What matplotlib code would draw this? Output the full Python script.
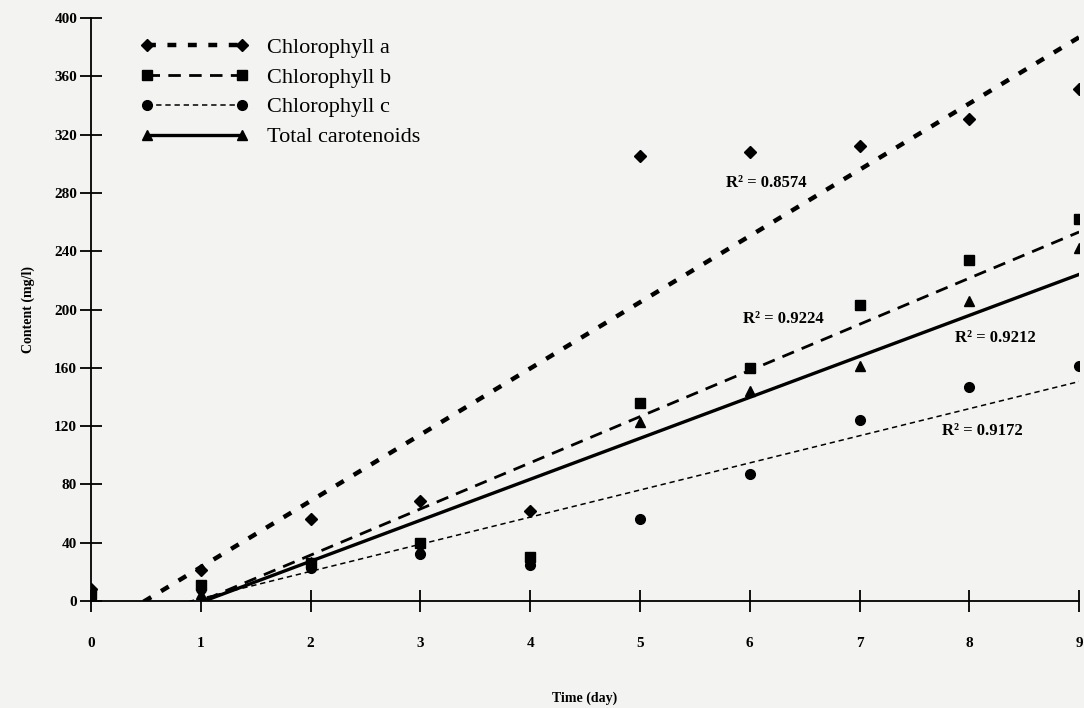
import numpy as np
import matplotlib
matplotlib.use("Agg")
import matplotlib.pyplot as plt
from matplotlib.lines import Line2D

days = [0, 1, 2, 3, 4, 5, 6, 7, 8, 9]
chl_a = [8, 21, 56, 69, 62, 305, 308, 312, 331, 351]
chl_b = [5, 11, 26, 40, 30, 136, 160, 203, 234, 262]
chl_c = [6, 8, 23, 32, 25, 56, 87, 124, 147, 161]
carot = [4, 5, 27, 36, 28, 123, 144, 161, 206, 242]
labels = ["Chlorophyll a", "Chlorophyll b", "Chlorophyll c", "Total carotenoids"]
r2_texts = ["R² = 0.8574", "R² = 0.9224", "R² = 0.9212", "R² = 0.9172"]
r2_pos = [(5.78, 284), (5.94, 191), (7.87, 178), (7.75, 114)]
yticks = [0, 40, 80, 120, 160, 200, 240, 280, 320, 360, 400]

plt.rcParams['font.family'] = ['Liberation Serif', 'DejaVu Serif']
plt.rcParams['font.weight'] = 'bold'

bg = '#f3f3f1'
fig = plt.figure(figsize=(10.84, 7.08), dpi=100, facecolor=bg)
ax = fig.add_axes([0.084, 0.151, 0.9115, 0.8236], facecolor=bg)

series = [chl_a, chl_b, chl_c, carot]
markers = ['D', 's', 'o', '^']
msizes = [6, 7, 7, 7.5]
styles = [dict(ls=(0, (2.0, 2.6)), lw=3.2),
          dict(ls=(0, (4.5, 3.0)), lw=2.0),
          dict(ls=(0, (3.5, 2.5)), lw=1.1),
          dict(ls='-', lw=2.4)]

x = np.array(days, dtype=float)
xf = np.linspace(0, 9, 200)
for vals, m, ms, st in zip(series, markers, msizes, styles):
    ax.plot(days, vals, linestyle='none', marker=m, ms=ms, color='black')
    k, b = np.polyfit(x, np.array(vals, dtype=float), 1)
    ax.plot(xf, k * xf + b, color='black', dash_capstyle='butt', **st)

for t, (px, py) in zip(r2_texts, r2_pos):
    ax.text(px, py, t, fontsize=12, fontweight='bold', color='black')

ax.set_xlim(0, 9)
ax.set_ylim(0, 400)
ax.set_xticks(days)
ax.set_yticks(yticks)
ax.spines['top'].set_visible(False)
ax.spines['right'].set_visible(False)
ax.spines['left'].set_linewidth(1.3)
ax.spines['bottom'].set_linewidth(1.3)
ax.tick_params(axis='x', direction='inout', length=16, width=1.3, pad=18, labelsize=11)
ax.tick_params(axis='y', direction='inout', length=16, width=1.3, pad=2, labelsize=11)
for lbl in ax.get_xticklabels() + ax.get_yticklabels():
    lbl.set_fontweight('bold')
for sp in ax.spines.values():
    sp.set_clip_on(False)

ax.set_xlabel("Time (day)", fontsize=10, fontweight='bold', labelpad=30)
ax.set_ylabel("Content (mg/l)", fontsize=10, fontweight='bold', labelpad=14)

handles = []
for m, ms, st in zip(markers, msizes, styles):
    handles.append(Line2D([0], [0], color='black', marker=m, ms=ms, **st))
leg = ax.legend(handles, labels, loc='upper left', bbox_to_anchor=(0.036, 0.99),
                numpoints=2, handlelength=4.9, frameon=False, fontsize=16,
                labelspacing=0.42, handletextpad=0.8, borderaxespad=0.2)
for t in leg.get_texts():
    t.set_fontweight('normal')

fig.savefig("out.png", dpi=100, facecolor=bg)
